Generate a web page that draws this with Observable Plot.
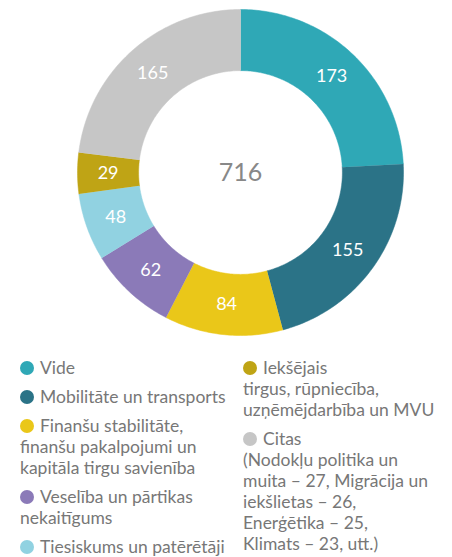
<!DOCTYPE html>
<html>
<head>
<meta charset="utf-8">
<script src="https://cdn.jsdelivr.net/npm/d3@7"></script>
<script src="https://cdn.jsdelivr.net/npm/@observablehq/plot@0.6"></script>
<style>
  html, body { margin: 0; padding: 0; background: #fff; }
  #wrap { position: relative; width: 452px; height: 557px; font-family: Lato, "Open Sans", sans-serif; }
  #chart { position: absolute; left: 0; top: 0; }
  .col { position: absolute; top: 357px; color: #777; font-size: 17.5px; line-height: 21px; }
  .item { margin-bottom: 8px; white-space: nowrap; }
  .sw { display: inline-block; width: 14px; height: 14px; border-radius: 50%; margin-right: 6px; vertical-align: -1px; }
</style>
</head>
<body>
<div id="wrap">
  <div id="chart"></div>
  <div class="col" id="colL" style="left:20px"></div>
  <div class="col" id="colR" style="left:243px"></div>
</div>
<script>
const categories = ["Vide", "Mobilitāte un transports", "Finanšu stabilitāte", "Veselība un pārtikas nekaitīgums", "Tiesiskums un patērētāji", "Iekšējais tirgus", "Citas"];
const values = [173, 155, 84, 62, 48, 29, 165];
const colors = ["#2fa8b6", "#2b7387", "#eac719", "#8b7ab8", "#91d2e1", "#bfa415", "#c6c6c6"];
const legendLeft = [
  [0, ["Vide"]],
  [1, ["Mobilitāte un transports"]],
  [2, ["Finanšu stabilitāte,", "finanšu pakalpojumi un", "kapitāla tirgu savienība"]],
  [3, ["Veselība un pārtikas", "nekaitīgums"]],
  [4, ["Tiesiskums un patērētāji"]]
];
const legendRight = [
  [5, ["Iekšējais", "tirgus, rūpniecība,", "uzņēmējdarbība un MVU"]],
  [6, ["Citas", "(Nodokļu politika un", "muita – 27, Migrācija un", "iekšlietas – 26,", "Enerģētika – 25,", "Klimats – 23, utt.)"]]
];

const total = d3.sum(values);
const inner = 0.625, outer = 1;
const pie = d3.pie().sort(null).value(d => d)(values);
const poly = [];
const labels = [];
pie.forEach((p, i) => {
  const n = Math.max(8, Math.ceil((p.endAngle - p.startAngle) * 60));
  for (let k = 0; k <= n; k++) {
    const a = p.startAngle + (p.endAngle - p.startAngle) * k / n;
    poly.push({cat: categories[i], x: outer * Math.sin(a), y: outer * Math.cos(a)});
  }
  for (let k = n; k >= 0; k--) {
    const a = p.startAngle + (p.endAngle - p.startAngle) * k / n;
    poly.push({cat: categories[i], x: inner * Math.sin(a), y: inner * Math.cos(a)});
  }
  const m = (p.startAngle + p.endAngle) / 2, r = (inner + outer) / 2;
  labels.push({x: r * Math.sin(m), y: r * Math.cos(m), v: values[i]});
});

const plot = Plot.plot({
  width: 452, height: 340,
  marginLeft: 77, marginRight: 49, marginTop: 9, marginBottom: 5,
  x: {domain: [-1, 1], axis: null},
  y: {domain: [-1, 1], axis: null},
  color: {domain: categories, range: colors},
  style: {fontFamily: "Lato, 'Open Sans', sans-serif", background: "#fff"},
  marks: [
    Plot.line(poly, {x: "x", y: "y", z: "cat", fill: "cat", stroke: "cat", strokeWidth: 0.5}),
    Plot.text(labels, {x: "x", y: "y", text: "v", fill: "white", fontSize: 18}),
    Plot.text([total], {x: () => 0, y: () => 0, text: d => String(d), fill: "#888", fontSize: 25})
  ]
});
document.getElementById("chart").append(plot);

function buildLegend(el, items) {
  items.forEach(([i, lines]) => {
    const div = document.createElement("div");
    div.className = "item";
    const sw = document.createElement("span");
    sw.className = "sw";
    sw.style.background = colors[i];
    div.append(sw);
    lines.forEach((t, j) => {
      if (j > 0) div.append(document.createElement("br"));
      div.append(document.createTextNode(t));
    });
    el.append(div);
  });
}
buildLegend(document.getElementById("colL"), legendLeft);
buildLegend(document.getElementById("colR"), legendRight);
</script>
</body>
</html>
